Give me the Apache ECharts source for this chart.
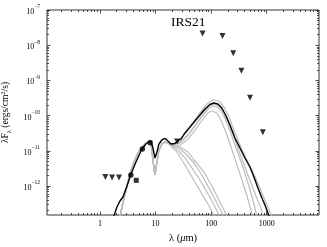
<!DOCTYPE html>
<html><head><meta charset="utf-8">
<script src="https://cdn.jsdelivr.net/npm/echarts@6/dist/echarts.min.js"></script>
<style>html,body{margin:0;padding:0;background:#fff}#c{width:327px;height:247px}</style>
</head><body><div id="c"></div>
<script>
// ---- data (wavelength in micron, lambda*F_lambda in erg/cm^2/s) ----
const title = 'IRS21';
const xTickValues = [1, 10, 100, 1000];
const xTickLabels = ['1', '10', '100', '1000'];
const yTickExponents = [-12, -11, -10, -9, -8, -7];
const xRange = [0.1115, 8710];
const yRange = [1.5e-13, 1e-7];

const upperLimits = [[1.25,1.80e-12],[1.65,1.75e-12],[2.2,1.75e-12],[24.5,1.84e-11],
  [70,2.15e-8],[160,1.82e-8],[250,5.9e-9],[350,1.89e-9],[500,3.23e-10],[850,3.36e-11]];
const detections = [[3.6,2.05e-12],[5.8,1.12e-11],[8.0,1.70e-11]];
const detectionsSquare = [[4.5,1.45e-12]];

const blackModel = [[1.64,9.5e-14],[2.02,2.53e-13],[2.29,3.75e-13],[2.59,4.87e-13],[3.06,1.0e-12],
  [3.56,2.05e-12],[4.44,4.81e-12],[5.69,1.125e-11],[6.72,1.56e-11],[7.61,1.78e-11],[8.27,1.90e-11],
  [8.98,1.20e-11],[9.75,6.24e-12],[10.6,9.24e-12],[11.5,1.56e-11],[13.0,2.03e-11],[14.8,2.24e-11],
  [16.7,1.90e-11],[18.9,1.56e-11],[22.3,1.61e-11],[25.3,1.90e-11],[28.6,2.16e-11],[33.8,3.21e-11],
  [41.6,4.74e-11],[51.1,7.03e-11],[62.9,1.04e-10],[77.3,1.54e-10],[95.1,2.07e-10],[112,2.28e-10],
  [132,2.14e-10],[156,1.64e-10],[185,9.75e-11],[218,5.41e-11],[268,2.31e-11],[330,1.20e-11],
  [405,6.24e-12],[499,3.47e-12],[589,1.80e-12],[695,8.77e-13],[820,4.56e-13],[929,2.88e-13],
  [1050,1.71e-13],[1190,9.5e-14]];

const grayNIR = [[2.20,9.5e-14],[2.49,2.53e-13],[2.94,7.69e-13],[3.46,2.19e-12],[4.09,4.81e-12],
  [4.83,8.66e-12],[5.69,1.28e-11],[6.72,1.67e-11],[7.61,1.90e-11],[8.27,1.67e-11],[8.98,5.48e-12],
  [9.75,2.05e-12],[10.6,4.81e-12],[11.5,1.02e-11],[13.0,1.56e-11],[14.8,1.78e-11],[16.7,1.67e-11]];

const grayA1 = [[19.7,1.56e-11],[25.3,1.90e-11],[33.8,3.00e-11],[45.1,5.77e-11],[62.9,1.19e-10],
  [84.0,2.14e-10],[108,2.77e-10],[138,2.60e-10],[170,1.75e-10],[209,9.12e-11],[257,3.90e-11],
  [330,1.46e-11],[423,6.24e-12],[542,2.85e-12],[667,1.39e-12],[820,6.33e-13],[1009,2.88e-13],
  [1190,1.60e-13],[1346,9.5e-14]];
const grayA2 = [[19.7,1.46e-11],[27.5,1.67e-11],[38.3,2.81e-11],[53.3,5.41e-11],[71.2,1.04e-10],
  [91.2,1.64e-10],[112,1.87e-10],[138,1.64e-10],[170,9.75e-11],[209,4.45e-11],[257,1.78e-11],
  [316,7.11e-12],[389,2.85e-12],[478,1.00e-12],[565,4.00e-13],[640,1.82e-13],[695,9.5e-14]];
const grayA3 = [[19.7,1.37e-11],[27.5,1.46e-11],[38.3,2.16e-11],[53.3,4.16e-11],[71.2,8.00e-11],
  [87.5,1.19e-10],[103,1.35e-10],[127,1.19e-10],[156,6.58e-11],[192,2.81e-11],[237,1.05e-11],
  [291,3.95e-12],[358,1.48e-12],[440,5.20e-13],[520,2.08e-13],[565,9.5e-14]];
const grayA4 = [[19.7,1.46e-11],[27.5,1.78e-11],[38.3,2.81e-11],[53.3,5.77e-11],[71.2,1.11e-10],
  [91.2,1.87e-10],[112,2.14e-10],[138,1.87e-10],[170,1.19e-10],[209,5.77e-11],[257,2.47e-11],
  [316,9.87e-12],[405,3.47e-12],[520,1.22e-12],[640,5.20e-13],[787,2.37e-13],[891,9.5e-14]];
const grayB1 = [[19.7,1.28e-11],[24.3,9.24e-12],[29.8,5.48e-12],[38.3,2.85e-12],[51.1,1.30e-12],
  [68.3,5.93e-13],[87.5,3.08e-13],[112,1.50e-13],[127,9.5e-14]];
const grayB2 = [[19.7,1.37e-11],[25.3,1.05e-11],[33.8,6.24e-12],[45.1,3.25e-12],[62.9,1.48e-12],
  [84.0,6.76e-13],[108,3.29e-13],[138,1.50e-13],[156,9.5e-14]];
const grayB3 = [[19.7,1.46e-11],[26.4,1.20e-11],[35.2,8.11e-12],[49.1,4.50e-12],[68.3,2.05e-12],
  [91.2,8.77e-13],[122,3.75e-13],[156,1.71e-13],[185,9.5e-14]];
const grayB4 = [[19.7,1.46e-11],[27.5,1.28e-11],[38.3,9.24e-12],[49.1,5.48e-12],[74.2,2.50e-12],
  [103,1.00e-12],[138,4.00e-13],[185,1.60e-13],[209,9.5e-14]];

// ---- build ----
const L = Math.log10;
const toLog = arr => arr.map(([x, y]) => [L(x), L(y)]);
const xMin = L(xRange[0]), xMax = L(xRange[1]);
const yMin = L(yRange[0]), yMax = L(yRange[1]);

const xMinor = [], yMinor = [];
for (let n = -1; n <= 3; n++) for (let k = 2; k <= 9; k++) {
  const v = L(k) + n; if (v > xMin && v < xMax) xMinor.push(v);
}
for (let n = -13; n <= -8; n++) for (let k = 2; k <= 9; k++) {
  const v = L(k) + n; if (v > yMin && v < yMax) yMinor.push(v);
}
const xMajorLog = xTickValues.map(L);

const FONT = 'Liberation Serif';
const tickColor = '#222';

function xAx(pos, custom, len, labels) {
  return {
    type: 'value', min: xMin, max: xMax, position: pos,
    axisLine: { show: false, onZero: false }, splitLine: { show: false },
    axisTick: { show: true, inside: true, length: len, customValues: custom,
      lineStyle: { color: tickColor, width: 0.8 } },
    axisLabel: labels ? {
      show: true, customValues: xMajorLog, margin: 5, color: '#000',
      fontFamily: FONT, fontSize: 8,
      formatter: v => xTickLabels[xMajorLog.findIndex(m => Math.abs(m - v) < 1e-6)] || ''
    } : { show: false }
  };
}
function yAx(pos, custom, len, labels) {
  return {
    type: 'value', min: yMin, max: yMax, position: pos,
    axisLine: { show: false, onZero: false }, splitLine: { show: false },
    axisTick: { show: true, inside: true, length: len, customValues: custom,
      lineStyle: { color: tickColor, width: 0.8 } },
    axisLabel: labels ? {
      show: true, customValues: yTickExponents, margin: 7, color: '#000',
      fontFamily: FONT, fontSize: 8,
      formatter: v => '{b|10}{s|\u2212' + Math.round(-v) + '}',
      rich: {
        b: { fontFamily: FONT, fontSize: 8, color: '#000', verticalAlign: 'bottom', lineHeight: 12 },
        s: { fontFamily: FONT, fontSize: 5.5, color: '#000', verticalAlign: 'top', lineHeight: 12 }
      }
    } : { show: false }
  };
}

const xAxes = [xAx('bottom', xMajorLog, 3.5, true), xAx('bottom', xMinor, 2, false),
               xAx('top', xMajorLog, 3.5, false), xAx('top', xMinor, 2, false)];
const yAxes = [yAx('left', yTickExponents, 3.5, true), yAx('left', yMinor, 2, false),
               yAx('right', yTickExponents, 3.5, false), yAx('right', yMinor, 2, false)];
yAxes[0].name = '\u03bbF{sub|\u03bb} (ergs/cm{sup|2}/s)';
yAxes[0].nameLocation = 'middle';
yAxes[0].nameGap = 32;
yAxes[0].nameTextStyle = { fontFamily: FONT, fontSize: 9.5, color: '#000',
  rich: { sub: { fontFamily: FONT, fontSize: 6.5, verticalAlign: 'bottom', lineHeight: 13 },
          sup: { fontFamily: FONT, fontSize: 6.5, verticalAlign: 'top', lineHeight: 13 } } };
xAxes[0].name = '\u03bb ({i|\u03bc}m)';
xAxes[0].nameLocation = 'middle';
xAxes[0].nameGap = 14;
xAxes[0].nameTextStyle = { fontFamily: FONT, fontSize: 10.5, color: '#000',
  rich: { i: { fontFamily: FONT, fontSize: 10.5, fontStyle: 'italic' } } };

const grayCurves = [grayA1, grayA2, grayA3, grayA4, grayB1, grayB2, grayB3, grayB4];
const series = [];
grayCurves.forEach(c => series.push({
  type: 'line', data: toLog(grayNIR.concat(c)), showSymbol: false, silent: true,
  lineStyle: { color: '#bdbdbd', width: 1.2 }, z: 2
}));
series.push({ type: 'line', data: toLog(blackModel), showSymbol: false, silent: true,
  lineStyle: { color: '#000', width: 1.4 }, z: 3 });
series.push({ type: 'scatter', data: toLog(upperLimits), symbol: 'triangle', symbolRotate: 180,
  symbolSize: 6, itemStyle: { color: '#000' }, z: 4 });
series.push({ type: 'scatter', data: toLog(detections), symbol: 'circle',
  symbolSize: 5.5, itemStyle: { color: '#000' }, z: 4 });
series.push({ type: 'scatter', data: toLog(detectionsSquare), symbol: 'rect',
  symbolSize: 5, itemStyle: { color: '#000' }, z: 4 });

const chart = echarts.init(document.getElementById('c'), null, { renderer: 'canvas' });
chart.setOption({
  animation: false,
  backgroundColor: '#fff',
  title: { text: title, left: 166, top: 10,
    textStyle: { fontFamily: FONT, fontSize: 13.5, fontWeight: 'normal', color: '#000' } },
  grid: { left: 47, right: 8, top: 10, bottom: 32, show: true, borderColor: '#333', borderWidth: 1,
    backgroundColor: 'transparent', containLabel: false, outerBoundsMode: 'none' },
  xAxis: xAxes,
  yAxis: yAxes,
  series: series
});
</script></body></html>
